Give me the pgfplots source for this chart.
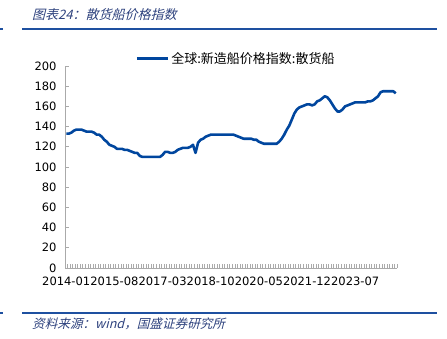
\documentclass[border=0pt]{standalone}
\usepackage{pgfplots}
\pgfplotsset{compat=1.18}
\usepackage{fontspec}
\setmainfont{DejaVu Sans}
\newfontfamily\cjk{Noto Sans CJK SC}
\newfontfamily\cjkit[FakeSlant=0.25]{Noto Sans CJK SC}
\definecolor{titlec}{RGB}{45,65,125}
\definecolor{rulec}{RGB}{30,80,160}
\definecolor{linec}{RGB}{0,70,158}
\definecolor{axc}{RGB}{170,170,170}
\pgfplotstableread{
i v
0 133
1 133
2 134
3 136
4 137
5 137
6 137
7 136
8 135
9 135
10 135
11 134
12 132
13 132
14 130
15 127
16 125
17 122
18 121
19 120
20 118
21 118
22 118
23 117
24 117
25 116
26 115
27 114
28 114
29 111
30 110
31 110
32 110
33 110
34 110
35 110
36 110
37 110
38 112
39 115
40 115
41 114
42 114
43 115
44 117
45 118
46 119
47 119
48 119
49 120
50 122
51 114
52 124
53 127
54 128
55 130
56 131
57 132
58 132
59 132
60 132
61 132
62 132
63 132
64 132
65 132
66 132
67 131
68 130
69 129
70 128
71 128
72 128
73 128
74 127
75 127
76 125
77 124
78 123
79 123
80 123
81 123
82 123
83 123
84 125
85 128
86 132
87 137
88 141
89 147
90 153
91 157
92 159
93 160
94 161
95 162
96 162
97 161
98 162
99 165
100 166
101 168
102 170
103 169
104 166
105 162
106 158
107 155
108 155
109 157
110 160
111 161
112 162
113 163
114 164
115 164
116 164
117 164
118 164
119 165
120 165
121 166
122 168
123 170
124 174
125 175
126 175
127 175
128 175
129 175
130 173
}\datatable
\begin{document}
\begin{tikzpicture}[x=1bp,y=1bp]
\path[use as bounding box] (0,0) rectangle (447,338);
% header
\node[anchor=west,inner sep=0pt,text=titlec] at (32,323) {\cjkit\fontsize{13bp}{15bp}\selectfont 图表24：散货船价格指数};
\draw[rulec,line width=1.6bp] (22,309) -- (437,309);
\draw[rulec,line width=1.6bp] (0,309) -- (3,309);
\draw[rulec,line width=1.6bp] (22,25) -- (437,25);
\draw[rulec,line width=1.6bp] (0,25) -- (3,25);
\node[anchor=west,inner sep=0pt,text=titlec] at (32,14) {\cjkit\fontsize{12.6bp}{14bp}\selectfont 资料来源：wind，国盛证券研究所};
\begin{axis}[
  at={(65bp,70bp)}, anchor=south west,
  scale only axis, width=332bp, height=202bp,
  xmin=-0.5, xmax=130.5, ymin=0, ymax=200,
  axis x line*=bottom, axis y line*=left,
  axis line style={draw=axc,line width=0.8bp,-},
  ytick={0,20,...,200},
  xtick={0,19,38,57,76,95,114},
  xticklabels={2014-01,2015-08,2017-03,2018-10,2020-05,2021-12,2023-07},
  minor xtick={-0.5,0.5,...,130.5},
  major x tick style={draw=none},
  minor x tick style={draw=axc,line width=0.5bp},
  minor tick length=4bp,
  major tick length=4bp,
  y tick style={draw=axc,line width=0.8bp},
  tick align=inside,
  /pgf/number format/assume math mode=true,
  ticklabel style={font=\fontsize{11.5bp}{13bp}\selectfont, text=black},
  yticklabel style={xshift=-5bp},
  xticklabel style={yshift=-5bp},
  legend style={at={(0.5,1)}, anchor=south, xshift=5bp, yshift=-3bp, draw=none, fill=none,
    font=\cjk\fontsize{13bp}{15bp}\selectfont, legend cell align=left},
  legend image code/.code={\draw[#1,line width=2.8bp] (0bp,0bp) -- (31bp,0bp);},
]
\addplot[color=linec, line width=2.6bp, line join=round, no markers] table[x=i,y=v] {\datatable};
\addlegendentry{全球:新造船价格指数:散货船}
\end{axis}
\end{tikzpicture}
\end{document}
